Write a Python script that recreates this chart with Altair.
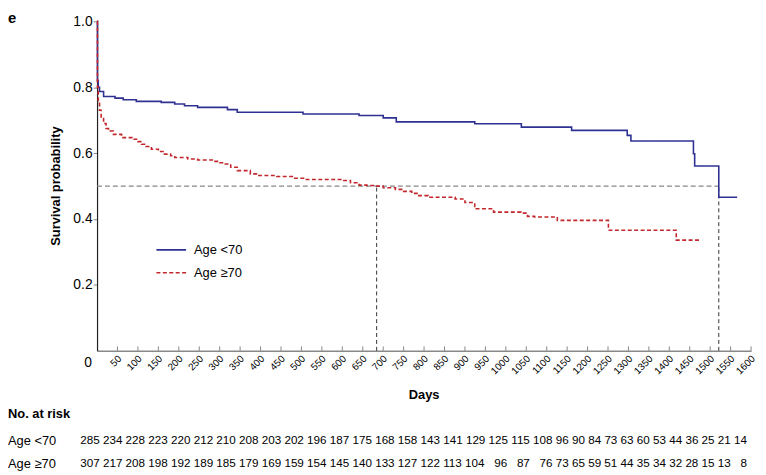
import altair as alt
import pandas as pd

# ---------------- data ----------------
groups = ["Age <70", "Age \u226570"]

blue_days = [0, 1, 3, 6, 16, 44, 64, 96, 157, 190, 214, 246, 319, 343, 504, 641, 700,
             732, 924, 1038, 1161, 1297, 1306, 1459, 1462, 1521, 1566]
blue_surv = [1.0, 0.82, 0.80, 0.787, 0.772, 0.767, 0.762, 0.757, 0.754, 0.749, 0.744,
             0.739, 0.732, 0.724, 0.719, 0.714, 0.707, 0.695, 0.689, 0.679, 0.669, 0.654,
             0.637, 0.598, 0.561, 0.466, 0.466]

red_days = [0, 1, 3, 6, 10, 16, 22, 28, 40, 60, 85, 100, 109, 120, 133, 150, 165, 180,
            190, 222, 246, 286, 300, 311, 327, 343, 375, 392, 440, 480, 512, 601, 620,
            641, 660, 682, 700, 730, 750, 770, 787, 810, 876, 900, 924, 970, 1037, 1053,
            1070, 1126, 1251, 1417, 1473]
red_surv = [1.0, 0.80, 0.76, 0.73, 0.71, 0.69, 0.675, 0.667, 0.657, 0.647, 0.642, 0.635,
            0.627, 0.62, 0.612, 0.605, 0.597, 0.592, 0.587, 0.582, 0.579, 0.575, 0.571,
            0.567, 0.557, 0.547, 0.537, 0.532, 0.529, 0.524, 0.520, 0.517, 0.510, 0.503,
            0.502, 0.500, 0.495, 0.490, 0.484, 0.478, 0.471, 0.466, 0.461, 0.45, 0.431,
            0.421, 0.418, 0.408, 0.406, 0.396, 0.366, 0.336, 0.336]

median_days = [684, 1521]
x_ticks = list(range(50, 1601, 50))
y_ticks = [0.2, 0.4, 0.6, 0.8, 1.0]

risk_lt70 = [285, 234, 228, 223, 220, 212, 210, 208, 203, 202, 196, 187, 175, 168, 158,
             143, 141, 129, 125, 115, 108, 96, 90, 84, 73, 63, 60, 53, 44, 36, 25, 21, 14]
risk_ge70 = [307, 217, 208, 198, 192, 189, 185, 179, 169, 159, 154, 145, 140, 133, 127,
             122, 113, 104, 96, 87, 76, 73, 65, 59, 51, 44, 35, 34, 32, 28, 15, 13, 8]

BLUE = "#2e3192"
RED = "#c1272d"
FONT = "Liberation Sans"

# ---------------- tables ----------------
curves = pd.concat([
    pd.DataFrame({"day": blue_days, "surv": blue_surv, "group": groups[0]}),
    pd.DataFrame({"day": red_days, "surv": red_surv, "group": groups[1]}),
])


def row_text(vals, other):
    parts = []
    for v, o in zip(vals, other):
        s = str(v)
        pad = max(len(s), len(str(o))) - len(s)
        parts.append("\u00a0\u00a0" * pad + s)
    return " ".join(parts)


row1 = row_text(risk_lt70, risk_ge70)
row2 = row_text(risk_ge70, risk_lt70)

x_scale = alt.Scale(domain=[0, 1600], nice=False, zero=False)
y_scale = alt.Scale(domain=[0, 1], nice=False)

x_axis = alt.Axis(
    values=x_ticks, format="d", title="Days", labelAngle=-45, labelAlign="right",
    labelBaseline="middle", labelFontSize=10, ticks=False, labelPadding=6,
    labelOffset=2, domainColor="#888888", domainWidth=1.5, titleFontSize=13,
    titleFontWeight="bold", titleX=330, titleY=44, titleBaseline="middle",
    grid=False, labelOverlap=False, labelFlush=False, labelBound=False)
y_axis = alt.Axis(
    values=y_ticks, format=".1f", title="Survival probability", labelFontSize=14,
    tickSize=4, tickColor="#888888", domainColor="#222222", domainWidth=1.2,
    labelPadding=1, titleFontSize=13, titleFontWeight="bold", titleX=-42,
    titleY=166, titleAngle=270, titleBaseline="middle", titleAlign="center",
    grid=False, labelFlush=False, labelOverlap=False)

X = alt.X("day:Q", scale=x_scale, axis=x_axis)
Y = alt.Y("surv:Q", scale=y_scale, axis=y_axis)

leg = alt.Legend(title=None, orient="none", legendX=59, legendY=215,
                 symbolType="stroke", symbolSize=900, symbolStrokeWidth=1.6,
                 labelFontSize=13, labelOffset=7, rowPadding=-1, labelColor="black",
                 labelFont=FONT)

lines = alt.Chart(curves).mark_line(interpolate="step-after", strokeWidth=1.6).encode(
    x=X, y=Y,
    color=alt.Color("group:N", scale=alt.Scale(domain=groups, range=[BLUE, RED]), legend=leg),
    strokeDash=alt.StrokeDash("group:N", scale=alt.Scale(domain=groups, range=[[1, 0], [4, 2.5]]),
                              legend=leg),
)

ticks = alt.Chart(pd.DataFrame({"day": x_ticks, "surv": 0.0, "surv2": 0.0135})).mark_rule(
    color="#888888", strokeWidth=1).encode(x=X, y=Y, y2="surv2:Q")

hline = alt.Chart(pd.DataFrame({"day": [0], "day2": [median_days[1]], "surv": [0.5]})).mark_rule(
    color="#888888", strokeDash=[5, 3], strokeWidth=1.2).encode(x=X, x2="day2:Q", y=Y)

vlines = alt.Chart(pd.DataFrame({"day": median_days, "surv": 0.0, "surv2": 0.5})).mark_rule(
    color="#333333", strokeDash=[4, 3], strokeWidth=1).encode(x=X, y=Y, y2="surv2:Q")

zero = alt.Chart(pd.DataFrame({"day": [0], "surv": [0]})).mark_text(
    text="0", fontSize=14, dx=-9, dy=12, color="black").encode(x=X, y=Y)

panel = alt.Chart(pd.DataFrame({"t": ["e"]})).mark_text(
    fontSize=15, fontWeight="bold", align="left", baseline="alphabetic", color="black").encode(
    text="t:N", x=alt.value(-90), y=alt.value(2))

risk_title = alt.Chart(pd.DataFrame({"t": ["No. at risk"]})).mark_text(
    fontSize=13, fontWeight="bold", align="left", baseline="alphabetic", color="black").encode(
    text="t:N", x=alt.value(-90), y=alt.value(401))

row_labels = []
for lab, txt, yy in [(groups[0], row1, 428), (groups[1], row2, 451)]:
    row_labels.append(alt.Chart(pd.DataFrame({"t": [lab]})).mark_text(
        fontSize=13, align="left", baseline="alphabetic", color="black").encode(
        text="t:N", x=alt.value(-90), y=alt.value(yy)))
    row_labels.append(alt.Chart(pd.DataFrame({"t": [txt]})).mark_text(
        fontSize=11.8, align="left", baseline="alphabetic", color="black").encode(
        text="t:N", x=alt.value(-17), y=alt.value(yy - 1)))

chart = alt.layer(hline, vlines, ticks, lines, zero, panel, risk_title, *row_labels).properties(
    width=661, height=333,
    autosize=alt.AutoSizeParams(type="none"),
    padding={"left": 90, "top": 11, "right": 7, "bottom": 123},
).configure(font=FONT).configure_view(strokeWidth=0).configure_axis(
    labelColor="black", titleColor="black", labelFont=FONT, titleFont=FONT
).configure_axisX(labelOverlap=False)

chart.save("out.html", embed_options={"renderer": "svg", "actions": False})
